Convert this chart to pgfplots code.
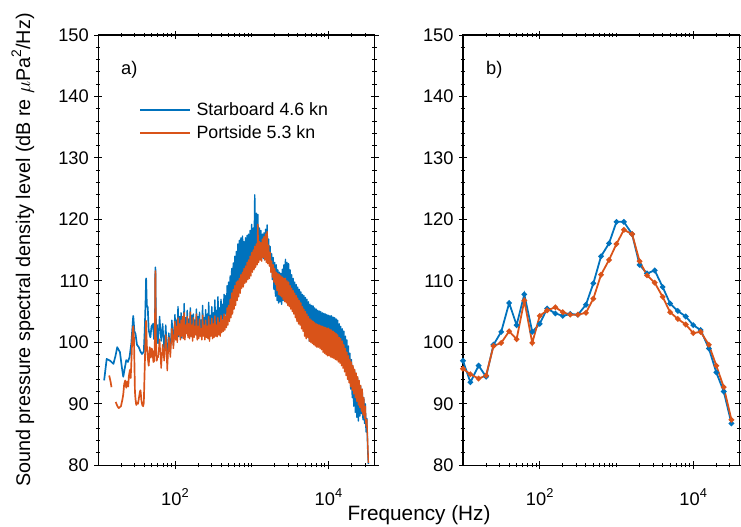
\documentclass[border=0pt]{standalone}
\usepackage{fontspec}
\setmainfont{Liberation Sans}
\usepackage{pgfplots}
\usepackage{pgfplotstable}
\pgfplotsset{compat=1.18}

\definecolor{sbblue}{HTML}{0072BD}
\definecolor{psorange}{HTML}{D95319}

% Narrowband spectra, 60 Hz - 33 kHz (f in Hz, levels in dB re uPa^2/Hz)
\pgfplotstableread{
f      sb     ps
60.3   99.8   97.5
63.1   104.2  100.5
66.1   100.2  95.8
69.2   103.0  99.6
72.4   98.5   97.0
75.9   102.8  101.2
79.4   97.4   95.4
83.2   101.5  100.8
87.1   98.8   97.6
91.2   103.6  102.2
95.5   99.6   99.0
100    104.5  103.4
102.3  100.8  100.4
104.7  103.6  102.6
107.2  101.4  100.0
109.6  105.8  104.0
112.2  100.9  101.2
114.8  104.2  103.0
117.5  101.6  100.4
120.2  104.8  103.6
123.0  100.7  101.0
125.9  103.2  104.2
128.8  101.8  100.6
131.8  106.3  104.8
134.9  101.0  100.4
138.0  104.0  102.8
141.3  102.0  101.4
144.5  105.2  104.2
147.9  101.2  100.8
151.4  103.8  103.0
154.9  101.6  100.6
158.5  105.6  104.9
162.2  101.0  101.0
166.0  104.4  102.8
169.8  101.8  100.2
173.8  104.6  104.0
177.8  101.2  100.8
182.0  103.6  102.6
186.2  101.5  101.2
190.5  105.4  104.6
195.0  101.0  100.4
199.5  104.2  102.6
204.2  101.3  100.6
208.9  104.9  103.8
213.8  101.8  101.0
218.8  103.6  102.2
223.9  101.6  100.4
229.1  106.0  104.4
234.4  101.5  101.0
239.9  104.0  102.8
245.5  101.9  100.4
251.2  105.3  103.6
257.0  101.4  100.8
263.0  104.6  102.6
269.2  102.0  100.6
275.4  106.5  104.2
281.8  101.7  100.2
288.4  104.4  102.8
295.1  102.2  101.0
302.0  105.8  103.9
309.0  101.8  100.6
316.2  104.8  103.0
323.6  102.2  100.8
331.1  106.9  104.3
338.8  102.4  101.0
346.7  105.2  102.8
354.8  102.6  100.9
363.1  107.4  104.0
371.5  102.8  101.2
380.2  105.6  103.2
389.0  103.0  101.0
398.1  107.0  104.4
407.4  103.4  101.6
416.9  106.2  103.6
426.6  103.8  101.8
436.5  107.8  104.6
446.7  104.0  102.0
457.1  107.6  104.2
467.7  104.6  102.4
478.6  109.2  105.6
489.8  105.2  102.8
501.2  109.8  106.0
512.9  106.0  103.4
524.8  110.8  107.0
537.0  106.8  104.0
549.5  112.0  108.0
562.3  107.8  104.6
575.4  112.9  108.6
588.8  108.2  105.4
602.6  114.0  109.2
616.6  109.0  106.0
631.0  114.8  109.8
645.7  109.4  106.8
660.7  116.0  110.0
676.1  110.0  107.4
691.8  116.6  110.4
707.9  110.4  108.0
724.4  117.0  111.0
741.3  110.8  108.8
758.6  117.3  111.4
776.2  111.2  109.0
794.3  116.4  112.0
812.8  111.6  109.6
831.8  117.0  112.4
851.1  112.0  109.8
871.0  117.4  113.0
891.3  112.3  110.2
912.0  117.6  113.4
933.3  112.6  110.4
955.0  118.2  114.0
977.2  113.0  110.8
1000   119.2  114.6
1023   113.6  111.4
1047   118.6  115.0
1072   114.2  111.8
1096   124.0  115.6
1122   114.4  112.2
1148   121.0  116.0
1175   114.5  112.6
1202   120.8  119.2
1230   114.2  113.0
1259   118.6  116.4
1288   114.0  113.4
1318   118.2  116.2
1349   113.8  113.2
1380   117.6  116.8
1413   113.6  113.8
1445   117.8  117.2
1479   113.4  113.4
1514   118.4  117.6
1549   113.8  113.0
1585   119.1  118.0
1622   113.6  112.8
1660   116.8  115.8
1698   113.2  112.4
1738   115.6  114.6
1778   111.6  111.4
1820   114.4  113.2
1862   110.2  110.6
1905   113.8  112.6
1950   108.6  109.8
1995   113.0  112.0
2042   107.5  109.4
2089   112.6  111.4
2138   106.8  108.4
2188   111.8  111.2
2239   106.4  107.8
2291   111.4  111.0
2344   106.6  107.6
2399   111.2  110.8
2455   106.2  107.4
2512   111.9  110.6
2570   106.8  107.0
2630   112.6  110.4
2692   107.0  106.6
2754   113.5  110.4
2818   107.4  106.4
2884   113.0  110.0
2951   107.6  106.0
3020   112.8  109.8
3090   107.2  105.8
3162   111.8  109.2
3236   106.8  105.4
3311   111.0  108.8
3388   106.4  105.0
3467   110.4  108.4
3548   106.0  104.6
3631   109.8  108.0
3715   105.6  104.0
3802   109.4  107.6
3890   105.0  103.4
3981   109.0  107.2
4074   104.8  103.0
4169   108.6  106.8
4266   104.4  102.8
4365   108.2  106.4
4467   103.8  102.2
4571   107.8  105.8
4677   103.4  101.8
4786   107.6  105.4
4898   103.0  101.0
5012   107.3  105.0
5129   102.6  100.6
5248   107.0  104.6
5370   101.4  100.8
5495   106.6  104.2
5623   100.2  100.2
5754   106.2  103.8
5888   101.6  100.0
6026   106.0  103.6
6166   101.4  99.8
6310   105.9  103.4
6457   101.0  99.6
6607   105.6  103.2
6761   100.8  99.4
6918   105.4  103.0
7079   100.4  99.2
7244   105.2  102.9
7413   99.8   99.2
7586   105.1  102.8
7762   100.4  99.0
7943   105.0  102.7
8128   100.2  98.8
8318   104.8  102.6
8511   99.8   98.4
8710   104.7  102.5
8913   99.6   98.2
9120   104.6  102.4
9333   100.0  98.0
9550   104.5  102.3
9772   99.8   97.8
10000  104.4  102.3
10230  99.6   97.8
10470  104.3  102.1
10720  99.4   97.6
10960  104.3  102.0
11220  99.2   97.5
11480  104.1  101.8
11750  99.0   97.4
12020  104.0  101.6
12300  98.8   97.2
12590  103.8  101.4
12880  98.6   97.1
13180  103.6  101.2
13490  98.2   96.8
13800  103.0  100.8
14130  97.8   96.6
14450  102.6  100.6
14790  97.4   96.2
15140  102.2  100.2
15490  97.0   95.8
15850  101.8  99.6
16220  96.4   95.2
16600  101.0  99.0
16980  95.6   94.6
17380  100.4  98.4
17780  94.8   94.0
18200  99.4   97.8
18620  93.8   93.4
19050  98.2   97.2
19500  92.4   92.8
19950  97.2   96.8
20420  91.0   92.2
20890  96.0   96.2
21380  89.6   91.6
21880  95.4   95.6
22390  88.6   91.0
22910  94.8   95.0
23440  87.8   90.4
23990  94.2   94.4
24550  87.2   89.8
25120  93.6   93.8
25700  88.0   89.4
26300  92.8   93.0
26920  88.4   88.8
27540  92.2   92.4
28180  87.4   88.2
28840  91.0   91.0
29510  86.8   87.6
30200  90.0   89.6
30900  85.4   86.4
31620  87.6   87.4
32360  83.0   84.2
33110  80.2   80.4
}\narrowband

% Low-frequency part of the starboard spectrum
\pgfplotstableread{
f     y
11.95 93.8
12.9  97.3
14.3  97.0
15.8  96.5
16.8  97.8
17.7  99.2
19.2  98.4
20.3  96.0
21.2  94.4
22.2  95.8
23.2  97.1
24.4  96.8
25.6  97.6
27.0  99.8
28.6  104.3
29.6  101.8
30.6  101.4
32.0  99.6
33.8  99.2
35.5  98.5
37.3  98.1
39.3  98.5
40.4  102.0
41.3  106.0
42.1  110.4
43.0  106.0
44.2  105.7
45.5  102.0
47.8  100.8
49.5  102.6
51.8  103.0
53.5  100.5
55.0  104.0
55.6  112.2
56.3  104.5
57.5  100.0
58.9  102.8
60.3  99.8
}\sblow

% Low-frequency part of the portside spectrum (gap where no data)
\pgfplotstableread{
f     y
13.9  94.6
14.5  93.6
14.9  92.7
15.5  nan
16.9  90.3
17.8  89.6
18.5  89.3
19.8  89.6
20.6  90.6
21.2  91.5
21.8  93.2
22.5  93.8
23.2  92.6
23.8  93.6
24.6  92.8
25.1  94.5
25.9  95.5
26.5  94.2
27.2  97.5
27.8  101.0
28.6  102.6
29.2  100.8
29.6  97.0
30.1  92.0
30.6  90.8
31.3  89.8
32.0  90.2
33.0  90.0
34.0  91.0
35.0  92.0
35.6  92.2
36.5  90.6
37.5  89.8
38.5  89.6
39.3  90.2
40.4  96.0
41.3  100.5
42.1  103.5
43.0  99.5
44.2  97.6
45.5  96.2
47.0  99.2
48.5  97.5
49.8  99.0
51.0  98.5
52.4  96.8
53.8  97.0
54.8  100.5
55.6  111.6
56.4  101.0
57.0  99.2
58.0  97.0
59.0  97.8
60.3  97.5
}\pslow

% One-third octave band levels
\pgfplotstableread{
f      sb     ps
10     97.0   95.7
12.5   93.5   94.8
16     96.2   94.1
20     94.4   94.6
25     99.6   99.4
31.5   101.7  99.9
40     106.4  101.8
50     102.8  100.5
63     107.8  106.8
80     101.7  99.9
100    103.0  104.3
125    105.5  105.2
160    104.7  105.7
200    104.3  104.9
250    104.6  104.5
315    104.5  104.5
400    106.1  104.8
500    109.6  107.1
630    114.0  111.0
800    116.1  113.4
1000   119.6  116.0
1250   119.6  118.3
1600   117.6  117.6
2000   112.6  113.2
2500   111.2  110.9
3150   111.7  109.7
4000   109.0  107.4
5000   106.3  104.9
6300   105.1  103.8
8000   104.2  102.9
10000  102.8  101.5
12500  102.0  101.7
16000  99.0   99.6
20000  95.1   96.2
25000  92.0   92.7
31500  86.8   87.4
}\thirdoct

\pgfplotsset{
  psdaxis/.style={
    scale only axis,
    width=278.7bp, height=433.7bp,
    xmin=10, xmax=4e4,
    ymin=80, ymax=150,
    ytick={80,90,...,150}, minor y tick num=4,
    xtick={100,10000},
    xticklabels={10\raisebox{0.45em}{\fontsize{13}{13}\selectfont 2},
                 10\raisebox{0.45em}{\fontsize{13}{13}\selectfont 4}},
    minor xtick={20,30,40,50,60,70,80,90,200,300,400,500,600,700,800,900,
                 1000,2000,3000,4000,5000,6000,7000,8000,9000,20000,30000},
    tick align=center,
    major tick length=8bp, minor tick length=4.5bp,
    tick style={black, line width=0.9bp},
    axis line style={black, line width=1.3bp},
    tick label style={font=\fontsize{18.5}{22}\selectfont},
    /pgf/number format/assume math mode=true,
    xticklabel style={yshift=-16bp},
    yticklabel style={xshift=-2bp},
    unbounded coords=jump,
  },
}

\begin{document}
\begin{tikzpicture}
\path[use as bounding box] (-99bp,-62bp) rectangle (648bp,469bp);

% a) narrowband spectra
\begin{semilogxaxis}[psdaxis, at={(0bp,0bp)}, anchor=south west,
    legend style={at={(rel axis cs:0.1375,0.852)}, anchor=north west,
      draw=none, fill=none, font=\fontsize{18}{20}\selectfont,
      row sep=4.5bp, column sep=4bp, cells={anchor=west}},
    legend image code/.code={\draw[#1, line width=1.6bp] (0bp,0bp) -- (50bp,0bp);},
  ]
  \addplot[sbblue, line width=1.7bp, line join=round] table[x=f, y=y] {\sblow};
  \addlegendentry{Starboard 4.6 kn}
  \addplot[psorange, line width=1.7bp, line join=round] table[x=f, y=y] {\pslow};
  \addlegendentry{Portside 5.3 kn}
  \addplot[sbblue, line width=1.4bp, line join=round, forget plot] table[x=f, y=sb] {\narrowband};
  \addplot[psorange, line width=1.4bp, line join=round, forget plot] table[x=f, y=ps] {\narrowband};
  \node[anchor=west, inner sep=0pt, font=\fontsize{18.5}{22}\selectfont]
    at (rel axis cs:0.0825,0.92) {a)};
\end{semilogxaxis}

% b) one-third octave band levels
\begin{semilogxaxis}[psdaxis, at={(367.7bp,0bp)}, anchor=south west]
  \addplot[sbblue, line width=1.8bp, mark=*, mark size=1.8bp] table[x=f, y=sb] {\thirdoct};
  \addplot[psorange, line width=1.8bp, mark=*, mark size=1.8bp] table[x=f, y=ps] {\thirdoct};
  \node[anchor=west, inner sep=0pt, font=\fontsize{18.5}{22}\selectfont]
    at (rel axis cs:0.0835,0.92) {b)};
\end{semilogxaxis}

% shared axis titles
\node[rotate=90, font=\fontsize{20}{24}\selectfont] at (-76bp,216.85bp)
  {Sound pressure spectral density level (dB re $\mu$Pa\raisebox{0.45em}{\fontsize{14}{14}\selectfont 2}/Hz)};
\node[anchor=base, font=\fontsize{21}{24}\selectfont] at (323.4bp,-56bp) {Frequency (Hz)};
\end{tikzpicture}
\end{document}
